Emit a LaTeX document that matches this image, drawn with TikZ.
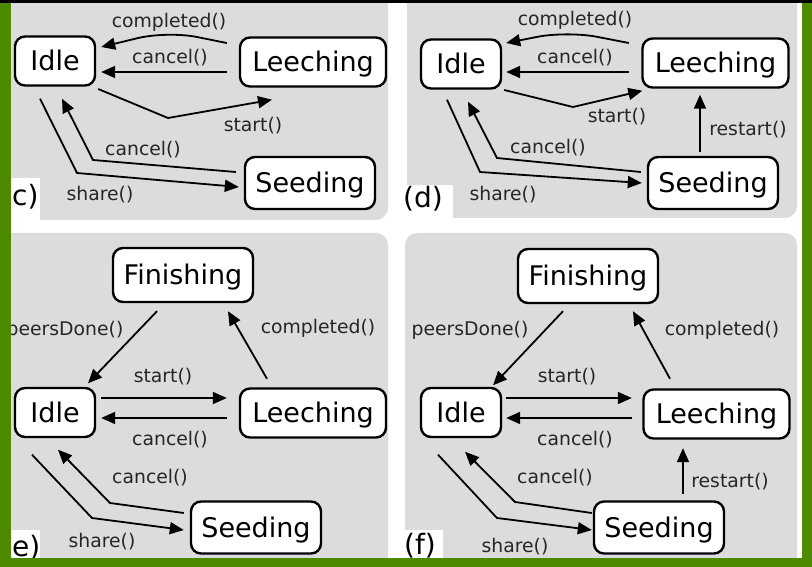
\documentclass[tikz,border=0pt]{standalone}
\usepackage{fontspec}
\setmainfont{DejaVu Sans}
\usetikzlibrary{arrows.meta,calc}
\definecolor{panelgray}{HTML}{DCDCDC}
\definecolor{framegreen}{HTML}{4E8A00}
\definecolor{labelink}{HTML}{262626}
\begin{document}
\begin{tikzpicture}[x=1pt,y=-1pt,
  state/.style={draw=black, line width=2.4pt, fill=white, rounded corners=10pt,
    inner sep=0pt, minimum height=49pt, text height=19.5pt, text depth=0pt,
    font=\fontsize{27}{30}\selectfont},
  idlebox/.style={state, minimum width=80pt},
  leechbox/.style={state, minimum width=146pt},
  seedbox/.style={state, minimum width=130pt, minimum height=52pt},
  finbox/.style={state, minimum width=140pt, minimum height=54pt},
  arr/.style={draw=black, line width=1.8pt, -{Triangle[length=14pt,width=12pt]}},
  lbl/.style={inner sep=0pt, text=labelink, font=\fontsize{18.8}{21}\selectfont},
  tag/.style={inner sep=0pt, text=black, font=\fontsize{28}{31}\selectfont},
  panel/.style={fill=panelgray, rounded corners=12pt},
  tagbox/.style={fill=white}
]
% page
\useasboundingbox (0,0) rectangle (812,567);
\fill[white] (0,0) rectangle (812,567);

% grey panels and the white patches behind the panel tags
\fill[panel] (-20,-10) rectangle (388,220);
\fill[panel] (407,-10) rectangle (797,218);
\fill[panel] (-20,233) rectangle (388,590);
\fill[panel] (405,233) rectangle (797,590);
\fill[tagbox] (11,178) rectangle (40,220);
\fill[tagbox] (403,185) rectangle (453,218);
\fill[tagbox] (11,530) rectangle (40,558);
\fill[tagbox] (403,530) rectangle (443,558);

% ---------- panel (c) ----------
\node[idlebox]  (cI) at (55,61)  {Idle};
\node[leechbox] (cL) at (313,62) {Leeching};
\node[seedbox]  (cS) at (310,183) {Seeding};
\draw[arr, rounded corners=30pt] ($(cL.west)+(-12,-19)$) -- (167,31) -- ($(cI.east)+(5,-14)$);
\draw[arr] ($(cL.west)+(-12,10)$) -- ($(cI.east)+(5,11)$);
\draw[arr] ($(cI.east)+(2,28)$) -- (168,118) -- ($(cL.south)+(-41,12)$);
\draw[arr] ($(cS.west)+(-8,-11)$) -- (93,160) -- ($(cI.south)+(7,12)$);
\draw[arr] ($(cI.south)+(-15,12)$) -- (77,173) -- ($(cS.west)+(-5,4)$);
\node[lbl] (cl1) at (169,22)  {completed()};
\node[lbl] (cl2) at (170,58)  {cancel()};
\node[lbl] (cl3) at (253,126) {start()};
\node[lbl] (cl4) at (143,150) {cancel()};
\node[lbl] (cl5) at (100,195) {share()};
\node[tag, anchor=west] (ctag) at (12,197) {c)};

% ---------- panel (d) ----------
\node[idlebox]  (dI) at (461,64)   {Idle};
\node[leechbox] (dL) at (715.5,63) {Leeching};
\node[seedbox]  (dS) at (713,183)  {Seeding};
\draw[arr, rounded corners=30pt] ($(dL.west)+(-12.5,-20)$) -- (567,31) -- ($(dI.east)+(4,-21)$);
\draw[arr] ($(dL.west)+(-12.5,9)$) -- ($(dI.east)+(4,8)$);
\draw[arr] ($(dI.east)+(2,26)$) -- (573,107) -- ($(dL.south west)+(1,2)$);
\draw[arr] ($(dS.north)+(-13,-4)$) -- ($(dL.south)+(-15.5,6)$);
\draw[arr] ($(dS.west)+(-6,-11)$) -- (497,158) -- ($(dI.south)+(7,12)$);
\draw[arr] ($(dI.south)+(-14,10)$) -- (480,172) -- ($(dS.west)+(-5,0)$);
\node[lbl] (dl1) at (575,20)  {completed()};
\node[lbl] (dl2) at (575,58)  {cancel()};
\node[lbl] (dl3) at (617,117) {start()};
\node[lbl] (dl4) at (748,130) {restart()};
\node[lbl] (dl5) at (548,148) {cancel()};
\node[lbl] (dl6) at (503,195) {share()};
\node[tag] (dtag) at (423,199) {(d)};

% ---------- panel (e) ----------
\node[finbox]   (eF) at (183,275)   {Finishing};
\node[idlebox]  (eI) at (55,412.5)  {Idle};
\node[leechbox] (eL) at (313,413)   {Leeching};
\node[seedbox]  (eS) at (256,527.5) {Seeding};
\draw[arr] ($(eF.south)+(-26,8)$) -- ($(eI.north)+(33,-3.5)$);
\draw[arr] ($(eL.north)+(-46,-8.5)$) -- ($(eF.south)+(45,8)$);
\draw[arr] ($(eI.east)+(5,-14.5)$) -- ($(eL.west)+(-12,-15)$);
\draw[arr] ($(eL.west)+(-12,5)$) -- ($(eI.east)+(5,5.5)$);
\draw[arr] ($(eS.west)+(-6,-14.5)$) -- (110,503) -- ($(eI.south)+(3,11.5)$);
\draw[arr] ($(eI.south)+(-23,16.5)$) -- (92,518) -- ($(eS.west)+(-6,2.5)$);
\node[lbl] (el1) at (65,330)  {peersDone()};
\node[lbl] (el2) at (318,328) {completed()};
\node[lbl] (el3) at (163,377) {start()};
\node[lbl] (el4) at (170,440) {cancel()};
\node[lbl] (el5) at (150,478) {cancel()};
\node[lbl] (el6) at (102,542) {share()};
\node[tag, anchor=west] (etag) at (12,548) {e)};

% ---------- panel (f) ----------
\node[finbox]   (fF) at (588,276)   {Finishing};
\node[idlebox]  (fI) at (461,412.5) {Idle};
\node[leechbox] (fL) at (716.5,414) {Leeching};
\node[seedbox]  (fS) at (659,527.5) {Seeding};
\draw[arr] ($(fF.south)+(-25,7)$) -- ($(fI.north)+(32,-1.5)$);
\draw[arr] ($(fL.north)+(-46.5,-9.5)$) -- ($(fF.south)+(45,7)$);
\draw[arr] ($(fI.east)+(4,-14.5)$) -- ($(fL.west)+(-10.5,-16)$);
\draw[arr] ($(fL.west)+(-10.5,4)$) -- ($(fI.east)+(4,5.5)$);
\draw[arr] ($(fS.north)+(24,-6.5)$) -- ($(fL.south)+(-33.5,8.5)$);
\draw[arr] ($(fS.west)+(-1,-14.5)$) -- (515,502) -- ($(fI.south)+(4,13.5)$);
\draw[arr] ($(fI.south)+(-23,16.5)$) -- (497,518) -- ($(fS.west)+(-1,2.5)$);
\node[lbl] (fl1) at (470,330) {peersDone()};
\node[lbl] (fl2) at (722,330) {completed()};
\node[lbl] (fl3) at (567,377) {start()};
\node[lbl] (fl4) at (575,440) {cancel()};
\node[lbl] (fl5) at (730,482) {restart()};
\node[lbl] (fl6) at (555,478) {cancel()};
\node[lbl] (fl7) at (515,547) {share()};
\node[tag] (ftag) at (420,546) {(f)};

% outer frame
\fill[framegreen] (0,0) rectangle (11,567);
\fill[framegreen] (802,0) rectangle (812,567);
\fill[framegreen] (0,558) rectangle (812,567);
\fill[black] (0,0) rectangle (812,3.5);
\end{tikzpicture}
\end{document}
